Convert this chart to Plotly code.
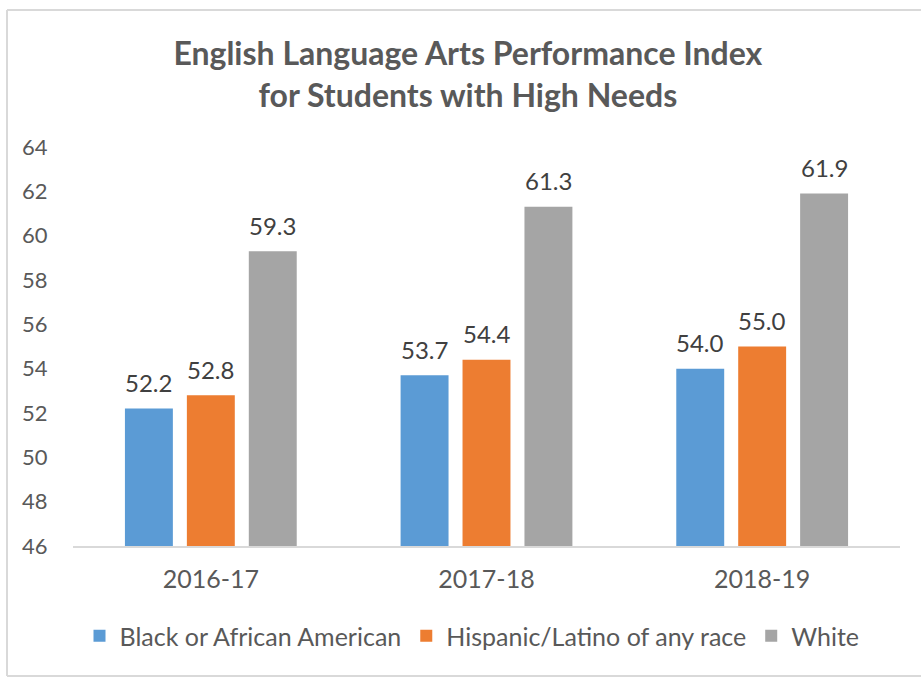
import plotly.graph_objects as go

# School years and performance index per student group
years = ["2016-17", "2017-18", "2018-19"]
black = [52.2, 53.7, 54.0]
hispanic = [52.8, 54.4, 55.0]
white = [59.3, 61.3, 61.9]

series_names = ["Black or African American", "Hispanic/Latino of any race", "White"]
series_values = [black, hispanic, white]
series_colors = ["#5B9BD5", "#ED7D31", "#A5A5A5"]

y_ticks = [46, 48, 50, 52, 54, 56, 58, 60, 62, 64]

FONT = "Lato"
TEXT = "#595959"
BARGAP = 0.326
GROUPGAP = 0.226

W, H = 921, 677
L, R, T, B = 73, 21, 147, 131

fig = go.Figure()
for name, vals, color in zip(series_names, series_values, series_colors):
    fig.add_trace(go.Bar(
        name=name, x=years, y=vals, marker=dict(color=color, line=dict(width=0)),
    ))

# Value labels above each bar, placed at the grouped-bar offsets
slot = (1 - BARGAP) / len(series_names)
annotations = []
for i, vals in enumerate(series_values):
    off = (i - (len(series_names) - 1) / 2) * slot
    for j, v in enumerate(vals):
        annotations.append(dict(
            x=j + off, y=v, xref="x", yref="y", text=f"{v:.1f}",
            showarrow=False, yanchor="middle", yshift=26,
            font=dict(family=FONT, size=24, color="#404040"),
        ))

# Light frame around the chart
def px_x(px):
    return (px - L) / (W - L - R)

def px_y(py):
    return (H - B - py) / (H - T - B)

frame = dict(type="line", xref="paper", yref="paper",
             line=dict(color="#D9D9D9", width=2), layer="below")
shapes = [
    dict(frame, x0=px_x(7), x1=px_x(7), y0=px_y(10), y1=px_y(676)),
    dict(frame, x0=px_x(7), x1=px_x(925), y0=px_y(10), y1=px_y(10)),
    dict(frame, x0=px_x(7), x1=px_x(925), y0=px_y(676), y1=px_y(676)),
]

fig.update_layout(
    width=W, height=H,
    margin=dict(l=L, r=R, t=T, b=B),
    paper_bgcolor="white", plot_bgcolor="white",
    barmode="group", bargap=BARGAP, bargroupgap=GROUPGAP,
    title=dict(
        text="<b>English Language Arts Performance Index<br>for Students with High Needs</b>",
        x=0.508, xanchor="center", y=1 - 65 / H, yanchor="middle",
        font=dict(family=FONT, size=32, color=TEXT),
    ),
    font=dict(family=FONT, color=TEXT),
    xaxis=dict(
        type="category", range=[-0.5, 2.5], showgrid=False,
        showline=True, linecolor="#D9D9D9", linewidth=2,
        ticks="outside", ticklen=10, tickcolor="rgba(0,0,0,0)",
        tickfont=dict(family=FONT, size=25, color=TEXT),
    ),
    yaxis=dict(
        range=[46, 64], tickvals=y_ticks, showgrid=False, zeroline=False,
        showline=False, ticks="outside", ticklen=20, tickcolor="rgba(0,0,0,0)",
        tickfont=dict(family=FONT, size=22, color=TEXT),
    ),
    legend=dict(
        orientation="h", x=px_x(472), xanchor="center", y=px_y(636), yanchor="middle",
        font=dict(family=FONT, size=25, color=TEXT), itemwidth=30,
        traceorder="normal",
    ),
    annotations=annotations,
    shapes=shapes,
)

fig.write_html("out.html")
